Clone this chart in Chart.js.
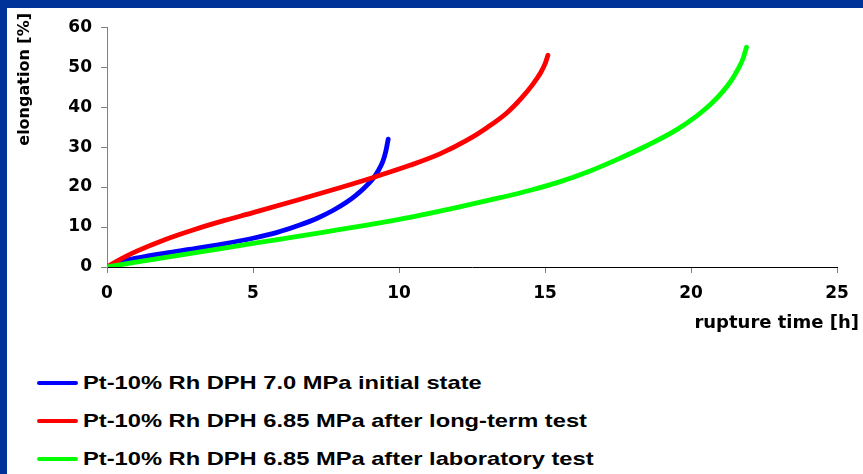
<!DOCTYPE html>
<html>
<head>
<meta charset="utf-8">
<script src="https://cdn.jsdelivr.net/npm/chart.js@4/dist/chart.umd.min.js"></script>
<style>
  html, body { margin: 0; padding: 0; }
  body { width: 863px; height: 474px; background: #003399; overflow: hidden; position: relative; }
  #panel { position: absolute; left: 7px; top: 8px; width: 856px; height: 466px; background: #fff; }
  #chart { position: absolute; left: 0; top: 0; }
  #legend { position: absolute; left: 30px; top: 0; font: bold 18.5px "Liberation Sans", Arial, sans-serif; color: #000; }
  .item { position: absolute; left: 0; white-space: nowrap; height: 24px; }
  .swatch { position: absolute; left: 0; top: 10px; width: 41px; height: 4px; border-radius: 2px; }
  .text { position: absolute; left: 46px; top: 1px; transform: scaleX(1.28); transform-origin: 0 50%; }
</style>
</head>
<body>
<div id="panel">
  <canvas id="chart" width="856" height="340"></canvas>
  <div id="legend"></div>
</div>
<script>
// rupture time [h] / elongation [%]
const blueTime = [0, 0.5, 1.0, 2.0, 3.0, 4.0, 5.0, 5.8, 6.6, 7.2, 7.75, 8.2, 8.5, 8.8, 9.1, 9.3, 9.45, 9.55, 9.63];
const blueElong = [0, 1.3, 2.2, 3.5, 4.6, 5.8, 7.2, 8.6, 10.5, 12.2, 14.2, 16.2, 17.8, 19.7, 22.0, 24.2, 26.5, 29.0, 32.0];

const redTime = [0, 0.5, 1.0, 2.0, 3.0, 4.0, 5.0, 6.5, 8.0, 9.2, 10.4, 11.4, 12.3, 13.0, 13.7, 14.2, 14.6, 14.85, 15.0, 15.1];
const redElong = [0, 2.1, 3.9, 6.9, 9.4, 11.6, 13.6, 16.7, 19.9, 22.6, 25.5, 28.3, 31.6, 34.8, 38.6, 42.3, 45.9, 48.6, 50.8, 53.0];

const greenTime = [0, 2.5, 5.0, 7.5, 9.0, 10.5, 12.0, 13.5, 14.5, 15.5, 16.5, 17.5, 18.5, 19.5, 20.2, 20.7, 21.1, 21.4, 21.6, 21.78, 21.9];
const greenElong = [0, 3.0, 5.9, 8.8, 10.6, 12.6, 14.9, 17.4, 19.2, 21.3, 23.9, 27.0, 30.4, 34.3, 37.8, 40.9, 44.0, 46.9, 49.4, 52.1, 55.0];

const seriesLabels = [
  'Pt-10% Rh DPH 7.0 MPa initial state',
  'Pt-10% Rh DPH 6.85 MPa after long-term test',
  'Pt-10% Rh DPH 6.85 MPa after laboratory test'
];
const seriesColors = ['#0000ff', '#ff0000', '#00ff00'];

const xTicks = [0, 5, 10, 15, 20, 25];
const yTicks = [0, 10, 20, 30, 40, 50, 60];
const xTitle = 'rupture time [h]';
const yTitle = 'elongation [%]';

function toPoints(xs, ys) {
  return xs.map((x, i) => ({ x: x, y: ys[i] }));
}

const tickFont = { family: 'DejaVu Sans', weight: 'bold', size: 17 };

const axisTitles = {
  id: 'axisTitles',
  afterDraw(chart) {
    const ctx = chart.ctx;
    ctx.save();
    ctx.fillStyle = '#000';
    ctx.font = 'bold 18px "DejaVu Sans"';
    ctx.textAlign = 'right';
    ctx.textBaseline = 'middle';
    ctx.fillText(xTitle, 852, 315);
    ctx.translate(18, 5);
    ctx.rotate(-Math.PI / 2);
    ctx.font = 'bold 16px "DejaVu Sans"';
    ctx.textAlign = 'right';
    ctx.fillText(yTitle, 0, 0);
    ctx.restore();
  }
};

const datasets = [
  { label: seriesLabels[0], data: toPoints(blueTime, blueElong), borderColor: seriesColors[0], order: 3 },
  { label: seriesLabels[1], data: toPoints(redTime, redElong), borderColor: seriesColors[1], order: 2 },
  { label: seriesLabels[2], data: toPoints(greenTime, greenElong), borderColor: seriesColors[2], order: 1 }
];

const chart = new Chart(document.getElementById('chart').getContext('2d'), {
  type: 'scatter',
  data: { datasets: datasets },
  options: {
    responsive: false,
    animation: false,
    devicePixelRatio: 1,
    layout: { padding: { left: 0, right: 26, top: 17, bottom: 0 } },
    elements: {
      point: { radius: 0, hoverRadius: 0 },
      line: { borderWidth: 4.8, cubicInterpolationMode: 'monotone', fill: false, borderCapStyle: 'round' }
    },
    datasets: { scatter: { showLine: true } },
    plugins: {
      legend: { display: false },
      tooltip: { enabled: false }
    },
    scales: {
      x: {
        type: 'linear',
        min: 0,
        max: 25,
        afterBuildTicks: (scale) => { scale.ticks = xTicks.map(v => ({ value: v })); },
        afterFit: (scale) => { scale.height = 81; },
        ticks: { font: tickFont, color: '#000', padding: 10, maxRotation: 0 },
        grid: { drawOnChartArea: false, drawTicks: true, tickLength: 6, tickColor: '#808080' },
        border: { color: '#000', width: 1 }
      },
      y: {
        type: 'linear',
        min: 0,
        max: 60,
        afterBuildTicks: (scale) => { scale.ticks = yTicks.map(v => ({ value: v })); },
        afterFit: (scale) => { scale.width = 100; },
        ticks: { font: tickFont, color: '#000', padding: 9 },
        grid: { drawOnChartArea: false, drawTicks: true, tickLength: 6, tickColor: '#808080' },
        border: { color: '#808080', width: 1 }
      }
    }
  },
  plugins: [axisTitles]
});

// legend below the plot, one entry per row
const legendEl = document.getElementById('legend');
const rowCenters = [375, 413, 451];
chart.data.datasets.forEach((ds, i) => {
  const item = document.createElement('div');
  item.className = 'item';
  item.style.top = (rowCenters[i] - 12) + 'px';
  const sw = document.createElement('span');
  sw.className = 'swatch';
  sw.style.background = ds.borderColor;
  const txt = document.createElement('span');
  txt.className = 'text';
  txt.textContent = ds.label;
  item.appendChild(sw);
  item.appendChild(txt);
  legendEl.appendChild(item);
});
</script>
</body>
</html>
